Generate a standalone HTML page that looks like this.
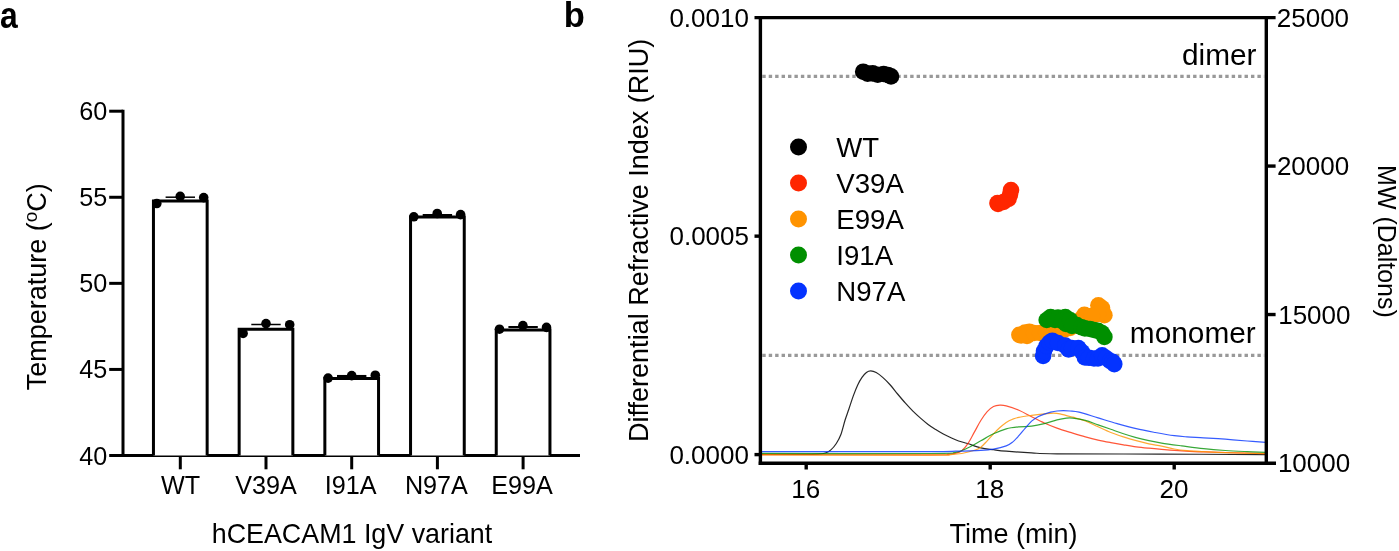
<!DOCTYPE html>
<html><head><meta charset="utf-8"><style>
html,body{margin:0;padding:0;background:#fff;}
svg{display:block;}
text{font-family:"Liberation Sans",sans-serif;fill:#000;}
svg{will-change:transform;}
</style></head><body>
<svg width="1399" height="551" viewBox="0 0 1399 551">
<rect width="1399" height="551" fill="#fff"/>
<g transform="translate(-0.05,27.7) scale(0.91,1.03)"><text x="0" y="0" font-size="35" font-weight="bold">a</text></g>
<line x1="123.00" y1="109.70" x2="123.00" y2="457.00" stroke="#000" stroke-width="3.0" />
<line x1="109.20" y1="111.20" x2="123.00" y2="111.20" stroke="#000" stroke-width="3.0" />
<text x="79.30" y="120.20" font-size="25.2" >60</text>
<line x1="109.20" y1="197.27" x2="123.00" y2="197.27" stroke="#000" stroke-width="3.0" />
<text x="79.36" y="206.27" font-size="25.2" >55</text>
<line x1="109.20" y1="283.35" x2="123.00" y2="283.35" stroke="#000" stroke-width="3.0" />
<text x="79.30" y="292.35" font-size="25.2" >50</text>
<line x1="109.20" y1="369.43" x2="123.00" y2="369.43" stroke="#000" stroke-width="3.0" />
<text x="79.36" y="378.43" font-size="25.2" >45</text>
<line x1="109.20" y1="455.50" x2="123.00" y2="455.50" stroke="#000" stroke-width="3.0" />
<text x="79.30" y="464.50" font-size="25.2" >40</text>
<line x1="123.00" y1="455.50" x2="580.00" y2="455.50" stroke="#000" stroke-width="3.0" />
<line x1="180.30" y1="455.50" x2="180.30" y2="469.30" stroke="#000" stroke-width="3.0" />
<path d="M153.45,455.50 V201.10 H207.15 V455.50" fill="#fff" stroke="#000" stroke-width="3.0" stroke-linejoin="miter"/>
<line x1="165.60" y1="197.20" x2="195.00" y2="197.20" stroke="#000" stroke-width="1.5" />
<line x1="180.30" y1="197.20" x2="180.30" y2="201.10" stroke="#000" stroke-width="1.5" />
<circle cx="156.80" cy="203.50" r="4.8" fill="#000"/>
<circle cx="180.20" cy="196.40" r="4.8" fill="#000"/>
<circle cx="203.70" cy="197.60" r="4.8" fill="#000"/>
<text x="160.96" y="494.20" font-size="25.2" >WT</text>
<line x1="266.00" y1="455.50" x2="266.00" y2="469.30" stroke="#000" stroke-width="3.0" />
<path d="M239.15,455.50 V329.30 H292.85 V455.50" fill="#fff" stroke="#000" stroke-width="3.0" stroke-linejoin="miter"/>
<line x1="251.30" y1="324.50" x2="280.70" y2="324.50" stroke="#000" stroke-width="1.5" />
<line x1="266.00" y1="324.50" x2="266.00" y2="329.30" stroke="#000" stroke-width="1.5" />
<circle cx="243.10" cy="333.40" r="4.8" fill="#000"/>
<circle cx="266.00" cy="323.60" r="4.8" fill="#000"/>
<circle cx="289.70" cy="324.70" r="4.8" fill="#000"/>
<text x="235.16" y="494.20" font-size="25.2" >V39A</text>
<line x1="351.70" y1="455.50" x2="351.70" y2="469.30" stroke="#000" stroke-width="3.0" />
<path d="M324.85,455.50 V378.50 H378.55 V455.50" fill="#fff" stroke="#000" stroke-width="3.0" stroke-linejoin="miter"/>
<line x1="337.00" y1="376.20" x2="366.40" y2="376.20" stroke="#000" stroke-width="2.5" />
<line x1="351.70" y1="376.20" x2="351.70" y2="378.50" stroke="#000" stroke-width="1.5" />
<circle cx="328.10" cy="378.10" r="4.8" fill="#000"/>
<circle cx="351.70" cy="375.60" r="4.8" fill="#000"/>
<circle cx="375.30" cy="375.20" r="4.8" fill="#000"/>
<text x="324.67" y="494.20" font-size="25.2" >I91A</text>
<line x1="437.40" y1="455.50" x2="437.40" y2="469.30" stroke="#000" stroke-width="3.0" />
<path d="M410.55,455.50 V217.10 H464.25 V455.50" fill="#fff" stroke="#000" stroke-width="3.0" stroke-linejoin="miter"/>
<line x1="422.70" y1="215.00" x2="452.10" y2="215.00" stroke="#000" stroke-width="2.0" />
<line x1="437.40" y1="215.00" x2="437.40" y2="217.10" stroke="#000" stroke-width="1.5" />
<circle cx="413.80" cy="216.80" r="4.8" fill="#000"/>
<circle cx="437.20" cy="213.50" r="4.8" fill="#000"/>
<circle cx="460.60" cy="214.60" r="4.8" fill="#000"/>
<text x="404.90" y="494.20" font-size="25.2" >N97A</text>
<line x1="523.10" y1="455.50" x2="523.10" y2="469.30" stroke="#000" stroke-width="3.0" />
<path d="M496.25,455.50 V330.00 H549.95 V455.50" fill="#fff" stroke="#000" stroke-width="3.0" stroke-linejoin="miter"/>
<line x1="508.40" y1="327.00" x2="537.80" y2="327.00" stroke="#000" stroke-width="2.0" />
<line x1="523.10" y1="327.00" x2="523.10" y2="330.00" stroke="#000" stroke-width="1.5" />
<circle cx="499.50" cy="329.20" r="4.8" fill="#000"/>
<circle cx="522.90" cy="325.60" r="4.8" fill="#000"/>
<circle cx="546.50" cy="327.40" r="4.8" fill="#000"/>
<text x="491.29" y="494.20" font-size="25.2" >E99A</text>
<text x="211.72" y="542.70" font-size="26.85" >hCEACAM1 IgV variant</text>
<g transform="translate(46,286.75) rotate(-90)">
<text x="0" y="0" font-size="27" text-anchor="middle">Temperature (<tspan font-size="19" dy="-9.3">o</tspan><tspan dy="9.3">C)</tspan></text>
</g>
<text x="563.65" y="27.30" font-size="34.5" font-weight="bold" >b</text>
<line x1="762.3" y1="76.35" x2="1264.2" y2="76.35" stroke="#999" stroke-width="3.1" stroke-dasharray="3.4 3.03"/>
<line x1="762.3" y1="355.4" x2="1264.2" y2="355.4" stroke="#999" stroke-width="3.1" stroke-dasharray="3.4 3.03"/>
<path d="M760.50,454.40 C767.08,454.40 790.38,454.45 800.00,454.40 C809.62,454.35 813.97,454.33 818.20,454.10 C822.43,453.87 823.28,453.70 825.40,453.00 C827.52,452.30 829.08,451.48 830.90,449.90 C832.72,448.32 834.63,446.07 836.30,443.50 C837.97,440.93 839.43,438.42 840.90,434.50 C842.37,430.58 843.77,424.25 845.10,420.00 C846.43,415.75 847.53,413.02 848.90,409.00 C850.27,404.98 851.83,399.90 853.30,395.90 C854.77,391.90 856.25,388.08 857.70,385.00 C859.15,381.92 860.55,379.48 862.00,377.40 C863.45,375.32 864.95,373.58 866.40,372.50 C867.85,371.42 869.07,370.90 870.70,370.90 C872.33,370.90 874.20,371.42 876.20,372.50 C878.20,373.58 880.35,375.32 882.70,377.40 C885.05,379.48 887.82,382.23 890.30,385.00 C892.78,387.77 895.12,391.02 897.60,394.00 C900.08,396.98 902.65,400.05 905.20,402.90 C907.75,405.75 910.35,408.57 912.90,411.10 C915.45,413.63 917.97,415.88 920.50,418.10 C923.03,420.32 925.57,422.50 928.10,424.40 C930.63,426.30 933.17,427.90 935.70,429.50 C938.23,431.10 940.75,432.62 943.30,434.00 C945.85,435.38 948.45,436.63 951.00,437.80 C953.55,438.97 955.85,440.05 958.60,441.00 C961.35,441.95 963.80,442.37 967.50,443.50 C971.20,444.63 976.47,446.77 980.80,447.80 C985.13,448.83 989.27,449.13 993.50,449.70 C997.73,450.27 999.85,450.67 1006.20,451.20 C1012.55,451.73 1023.13,452.47 1031.60,452.90 C1040.07,453.33 1035.60,453.60 1057.00,453.80 C1078.40,454.00 1125.23,453.97 1160.00,454.10 C1194.77,454.23 1248.00,454.52 1265.60,454.60" fill="none" stroke="#000" stroke-width="1.2" stroke-linejoin="round" stroke-opacity="0.85"/>
<path d="M760.50,454.60 C788.75,454.63 898.75,454.87 930.00,454.80 C961.25,454.73 943.77,454.45 948.00,454.20 C952.23,453.95 953.10,453.88 955.40,453.30 C957.70,452.72 959.68,452.35 961.80,450.70 C963.92,449.05 965.98,446.53 968.10,443.40 C970.22,440.27 972.38,435.72 974.50,431.90 C976.62,428.08 978.68,423.88 980.80,420.50 C982.92,417.12 985.08,413.93 987.20,411.60 C989.32,409.27 991.38,407.57 993.50,406.50 C995.62,405.43 997.78,405.30 999.90,405.20 C1002.02,405.10 1003.03,405.05 1006.20,405.90 C1009.37,406.75 1014.67,408.50 1018.90,410.30 C1023.13,412.10 1027.37,414.58 1031.60,416.70 C1035.83,418.82 1040.07,421.10 1044.30,423.00 C1048.53,424.90 1052.27,426.42 1057.00,428.10 C1061.73,429.78 1067.97,431.63 1072.70,433.10 C1077.43,434.57 1081.17,435.73 1085.40,436.90 C1089.63,438.07 1093.87,439.15 1098.10,440.10 C1102.33,441.05 1106.57,441.82 1110.80,442.60 C1115.03,443.38 1119.27,444.10 1123.50,444.80 C1127.73,445.50 1131.97,446.23 1136.20,446.80 C1140.43,447.37 1144.67,447.78 1148.90,448.20 C1153.13,448.62 1156.12,448.87 1161.60,449.30 C1167.08,449.73 1174.80,450.37 1181.80,450.80 C1188.80,451.23 1189.63,451.43 1203.60,451.90 C1217.57,452.37 1255.27,453.32 1265.60,453.60" fill="none" stroke="#FF2600" stroke-width="1.2" stroke-linejoin="round" stroke-opacity="0.78"/>
<path d="M760.50,454.80 C788.75,454.87 898.42,455.23 930.00,455.20 C961.58,455.17 944.70,454.88 950.00,454.60 C955.30,454.32 957.72,454.22 961.80,453.50 C965.88,452.78 971.33,451.35 974.50,450.30 C977.67,449.25 978.68,448.78 980.80,447.20 C982.92,445.62 985.08,443.03 987.20,440.80 C989.32,438.57 991.38,436.02 993.50,433.80 C995.62,431.58 997.78,429.40 999.90,427.50 C1002.02,425.60 1004.08,423.78 1006.20,422.40 C1008.32,421.02 1010.48,420.05 1012.60,419.20 C1014.72,418.35 1015.73,417.93 1018.90,417.30 C1022.07,416.67 1027.37,415.97 1031.60,415.40 C1035.83,414.83 1040.70,414.28 1044.30,413.90 C1047.90,413.52 1050.58,413.12 1053.20,413.10 C1055.82,413.08 1056.75,413.12 1060.00,413.80 C1063.25,414.48 1068.47,416.00 1072.70,417.20 C1076.93,418.40 1081.17,419.40 1085.40,421.00 C1089.63,422.60 1093.87,424.88 1098.10,426.80 C1102.33,428.72 1106.57,430.82 1110.80,432.50 C1115.03,434.18 1119.27,435.53 1123.50,436.90 C1127.73,438.27 1131.97,439.53 1136.20,440.70 C1140.43,441.87 1144.67,442.98 1148.90,443.90 C1153.13,444.82 1157.37,445.35 1161.60,446.20 C1165.83,447.05 1170.07,448.27 1174.30,449.00 C1178.53,449.73 1182.12,450.17 1187.00,450.60 C1191.88,451.03 1197.22,451.25 1203.60,451.60 C1209.98,451.95 1214.97,452.37 1225.30,452.70 C1235.63,453.03 1258.88,453.45 1265.60,453.60" fill="none" stroke="#FF9300" stroke-width="1.2" stroke-linejoin="round" stroke-opacity="0.8"/>
<path d="M760.50,453.40 C788.75,453.42 897.52,453.68 930.00,453.50 C962.48,453.32 949.05,453.25 955.40,452.30 C961.75,451.35 963.87,449.72 968.10,447.80 C972.33,445.88 976.57,443.13 980.80,440.80 C985.03,438.47 989.27,435.80 993.50,433.80 C997.73,431.80 1001.97,429.97 1006.20,428.80 C1010.43,427.63 1014.67,427.23 1018.90,426.80 C1023.13,426.37 1027.37,426.72 1031.60,426.20 C1035.83,425.68 1040.07,424.75 1044.30,423.70 C1048.53,422.65 1053.32,420.83 1057.00,419.90 C1060.68,418.97 1063.78,418.40 1066.40,418.10 C1069.02,417.80 1069.53,417.72 1072.70,418.10 C1075.87,418.48 1081.17,419.27 1085.40,420.40 C1089.63,421.53 1093.87,423.42 1098.10,424.90 C1102.33,426.38 1106.57,427.83 1110.80,429.30 C1115.03,430.77 1119.27,432.32 1123.50,433.70 C1127.73,435.08 1131.97,436.43 1136.20,437.60 C1140.43,438.77 1144.67,439.78 1148.90,440.70 C1153.13,441.62 1156.12,442.23 1161.60,443.10 C1167.08,443.97 1174.80,444.97 1181.80,445.90 C1188.80,446.83 1196.35,447.93 1203.60,448.70 C1210.85,449.47 1218.05,450.02 1225.30,450.50 C1232.55,450.98 1240.38,451.30 1247.10,451.60 C1253.82,451.90 1262.52,452.18 1265.60,452.30" fill="none" stroke="#008F00" stroke-width="1.2" stroke-linejoin="round" stroke-opacity="0.78"/>
<path d="M760.50,451.60 C788.75,451.60 897.52,451.67 930.00,451.60 C962.48,451.53 946.93,451.42 955.40,451.20 C963.87,450.98 974.45,450.65 980.80,450.30 C987.15,449.95 989.27,449.83 993.50,449.10 C997.73,448.37 1003.02,447.07 1006.20,445.90 C1009.38,444.73 1010.48,443.80 1012.60,442.10 C1014.72,440.40 1016.78,438.03 1018.90,435.70 C1021.02,433.37 1023.18,430.53 1025.30,428.10 C1027.42,425.67 1029.48,423.00 1031.60,421.10 C1033.72,419.20 1035.88,417.87 1038.00,416.70 C1040.12,415.53 1042.18,414.85 1044.30,414.10 C1046.42,413.35 1048.58,412.72 1050.70,412.20 C1052.82,411.68 1054.88,411.27 1057.00,411.00 C1059.12,410.73 1061.23,410.60 1063.40,410.60 C1065.57,410.60 1067.38,410.73 1070.00,411.00 C1072.62,411.27 1074.42,411.05 1079.10,412.20 C1083.78,413.35 1091.75,416.00 1098.10,417.90 C1104.45,419.80 1110.85,421.80 1117.20,423.60 C1123.55,425.40 1129.85,427.22 1136.20,428.70 C1142.55,430.18 1148.95,431.33 1155.30,432.50 C1161.65,433.67 1169.02,434.97 1174.30,435.70 C1179.58,436.43 1182.12,436.55 1187.00,436.90 C1191.88,437.25 1197.22,437.42 1203.60,437.80 C1209.98,438.18 1218.05,438.67 1225.30,439.20 C1232.55,439.73 1240.38,440.48 1247.10,441.00 C1253.82,441.52 1262.52,442.08 1265.60,442.30" fill="none" stroke="#0433FF" stroke-width="1.2" stroke-linejoin="round" stroke-opacity="0.8"/>
<line x1="760.40" y1="17.60" x2="760.40" y2="465.00" stroke="#000" stroke-width="3.4" />
<line x1="1266.30" y1="17.60" x2="1266.30" y2="465.00" stroke="#000" stroke-width="3.4" />
<line x1="754.50" y1="17.60" x2="1275.60" y2="17.60" stroke="#000" stroke-width="3.4" />
<line x1="758.70" y1="463.30" x2="1276.00" y2="463.30" stroke="#000" stroke-width="3.4" />
<line x1="754.50" y1="236.15" x2="760.40" y2="236.15" stroke="#000" stroke-width="3.4" />
<line x1="754.50" y1="454.60" x2="760.40" y2="454.60" stroke="#000" stroke-width="3.4" />
<text x="669.40" y="26.90" font-size="26" >0.0010</text>
<text x="669.46" y="245.35" font-size="26" >0.0005</text>
<text x="669.40" y="463.80" font-size="26" >0.0000</text>
<line x1="1266.30" y1="166.07" x2="1275.60" y2="166.07" stroke="#000" stroke-width="3.4" />
<line x1="1266.30" y1="314.53" x2="1275.60" y2="314.53" stroke="#000" stroke-width="3.4" />
<text x="1276.79" y="26.80" font-size="26" >25000</text>
<text x="1276.89" y="175.27" font-size="26" >20000</text>
<text x="1278.20" y="323.73" font-size="26" >15000</text>
<text x="1277.90" y="472.20" font-size="26" >10000</text>
<line x1="806.20" y1="463.30" x2="806.20" y2="469.50" stroke="#000" stroke-width="3.4" />
<text x="791.33" y="498.20" font-size="26" >16</text>
<line x1="990.20" y1="463.30" x2="990.20" y2="469.50" stroke="#000" stroke-width="3.4" />
<text x="975.33" y="498.20" font-size="26" >18</text>
<line x1="1174.20" y1="463.30" x2="1174.20" y2="469.50" stroke="#000" stroke-width="3.4" />
<text x="1159.61" y="498.20" font-size="26" >20</text>
<text x="949.58" y="542.70" font-size="27" >Time (min)</text>
<g transform="translate(647.6,240.35) rotate(-90)"><text x="0" y="0" font-size="27" text-anchor="middle">Differential Refractive Index (RIU)</text></g>
<g transform="translate(1377.5,241.45) rotate(90)"><text x="0" y="0" font-size="25" text-anchor="middle">MW (Daltons)</text></g>
<text x="1182.04" y="65.40" font-size="29.8" >dimer</text>
<text x="1129.86" y="342.90" font-size="29.8" >monomer</text>
<circle cx="798.50" cy="146.90" r="8.5" fill="#000000"/>
<text x="836.30" y="156.70" font-size="27.6" >WT</text>
<circle cx="798.50" cy="182.90" r="8.5" fill="#FF2600"/>
<text x="836.30" y="192.70" font-size="27.6" >V39A</text>
<circle cx="798.50" cy="218.90" r="8.5" fill="#FF9300"/>
<text x="836.30" y="228.70" font-size="27.6" >E99A</text>
<circle cx="798.50" cy="254.90" r="8.5" fill="#008F00"/>
<text x="836.30" y="264.70" font-size="27.6" >I91A</text>
<circle cx="798.50" cy="290.90" r="8.5" fill="#0433FF"/>
<text x="836.30" y="300.70" font-size="27.6" >N97A</text>
<circle cx="863.20" cy="71.70" r="8.3" fill="#000000"/>
<circle cx="867.60" cy="73.60" r="8.3" fill="#000000"/>
<circle cx="872.70" cy="73.40" r="8.3" fill="#000000"/>
<circle cx="877.70" cy="74.70" r="8.3" fill="#000000"/>
<circle cx="883.60" cy="74.00" r="8.3" fill="#000000"/>
<circle cx="888.00" cy="75.00" r="8.3" fill="#000000"/>
<circle cx="891.00" cy="76.40" r="8.3" fill="#000000"/>
<circle cx="998.00" cy="204.00" r="8.3" fill="#FF2600"/>
<circle cx="997.50" cy="203.00" r="8.3" fill="#FF2600"/>
<circle cx="1003.50" cy="202.00" r="8.3" fill="#FF2600"/>
<circle cx="1008.50" cy="199.00" r="8.3" fill="#FF2600"/>
<circle cx="1010.00" cy="194.50" r="8.3" fill="#FF2600"/>
<circle cx="1011.00" cy="190.00" r="8.3" fill="#FF2600"/>
<circle cx="1019.40" cy="334.80" r="8.3" fill="#FF9300"/>
<circle cx="1021.20" cy="335.50" r="8.3" fill="#FF9300"/>
<circle cx="1025.00" cy="332.50" r="8.3" fill="#FF9300"/>
<circle cx="1029.40" cy="331.70" r="8.3" fill="#FF9300"/>
<circle cx="1027.00" cy="336.00" r="8.3" fill="#FF9300"/>
<circle cx="1034.00" cy="333.00" r="8.3" fill="#FF9300"/>
<circle cx="1040.00" cy="333.00" r="8.3" fill="#FF9300"/>
<circle cx="1046.00" cy="332.00" r="8.3" fill="#FF9300"/>
<circle cx="1052.00" cy="332.00" r="8.3" fill="#FF9300"/>
<circle cx="1058.00" cy="331.00" r="8.3" fill="#FF9300"/>
<circle cx="1064.00" cy="330.00" r="8.3" fill="#FF9300"/>
<circle cx="1070.00" cy="328.00" r="8.3" fill="#FF9300"/>
<circle cx="1076.00" cy="324.00" r="8.3" fill="#FF9300"/>
<circle cx="1080.00" cy="320.00" r="8.3" fill="#FF9300"/>
<circle cx="1084.40" cy="314.80" r="8.3" fill="#FF9300"/>
<circle cx="1091.00" cy="316.00" r="8.3" fill="#FF9300"/>
<circle cx="1098.40" cy="305.30" r="8.3" fill="#FF9300"/>
<circle cx="1102.00" cy="308.00" r="8.3" fill="#FF9300"/>
<circle cx="1104.40" cy="315.20" r="8.3" fill="#FF9300"/>
<circle cx="1098.00" cy="314.00" r="8.3" fill="#FF9300"/>
<circle cx="1092.00" cy="316.00" r="8.3" fill="#FF9300"/>
<circle cx="1046.70" cy="320.00" r="8.3" fill="#008F00"/>
<circle cx="1050.60" cy="317.00" r="8.3" fill="#008F00"/>
<circle cx="1055.00" cy="320.00" r="8.3" fill="#008F00"/>
<circle cx="1058.00" cy="317.50" r="8.3" fill="#008F00"/>
<circle cx="1065.30" cy="317.00" r="8.3" fill="#008F00"/>
<circle cx="1062.00" cy="321.00" r="8.3" fill="#008F00"/>
<circle cx="1066.00" cy="324.00" r="8.3" fill="#008F00"/>
<circle cx="1070.00" cy="320.00" r="8.3" fill="#008F00"/>
<circle cx="1076.80" cy="325.10" r="8.3" fill="#008F00"/>
<circle cx="1072.00" cy="326.00" r="8.3" fill="#008F00"/>
<circle cx="1081.70" cy="327.30" r="8.3" fill="#008F00"/>
<circle cx="1084.90" cy="328.40" r="8.3" fill="#008F00"/>
<circle cx="1090.00" cy="329.00" r="8.3" fill="#008F00"/>
<circle cx="1094.00" cy="330.00" r="8.3" fill="#008F00"/>
<circle cx="1098.00" cy="330.90" r="8.3" fill="#008F00"/>
<circle cx="1102.00" cy="333.00" r="8.3" fill="#008F00"/>
<circle cx="1104.40" cy="336.90" r="8.3" fill="#008F00"/>
<circle cx="1043.10" cy="356.00" r="8.3" fill="#0433FF"/>
<circle cx="1044.00" cy="351.00" r="8.3" fill="#0433FF"/>
<circle cx="1046.50" cy="346.00" r="8.3" fill="#0433FF"/>
<circle cx="1049.50" cy="342.50" r="8.3" fill="#0433FF"/>
<circle cx="1052.30" cy="340.70" r="8.3" fill="#0433FF"/>
<circle cx="1058.00" cy="343.00" r="8.3" fill="#0433FF"/>
<circle cx="1065.30" cy="345.60" r="8.3" fill="#0433FF"/>
<circle cx="1068.60" cy="349.40" r="8.3" fill="#0433FF"/>
<circle cx="1072.00" cy="348.00" r="8.3" fill="#0433FF"/>
<circle cx="1078.40" cy="348.00" r="8.3" fill="#0433FF"/>
<circle cx="1082.00" cy="352.00" r="8.3" fill="#0433FF"/>
<circle cx="1084.90" cy="357.50" r="8.3" fill="#0433FF"/>
<circle cx="1089.00" cy="357.80" r="8.3" fill="#0433FF"/>
<circle cx="1094.00" cy="358.50" r="8.3" fill="#0433FF"/>
<circle cx="1098.00" cy="358.40" r="8.3" fill="#0433FF"/>
<circle cx="1102.10" cy="355.40" r="8.3" fill="#0433FF"/>
<circle cx="1106.00" cy="358.00" r="8.3" fill="#0433FF"/>
<circle cx="1110.00" cy="361.00" r="8.3" fill="#0433FF"/>
<circle cx="1112.70" cy="361.90" r="8.3" fill="#0433FF"/>
<circle cx="1114.30" cy="364.10" r="8.3" fill="#0433FF"/>
</svg>
</body></html>
